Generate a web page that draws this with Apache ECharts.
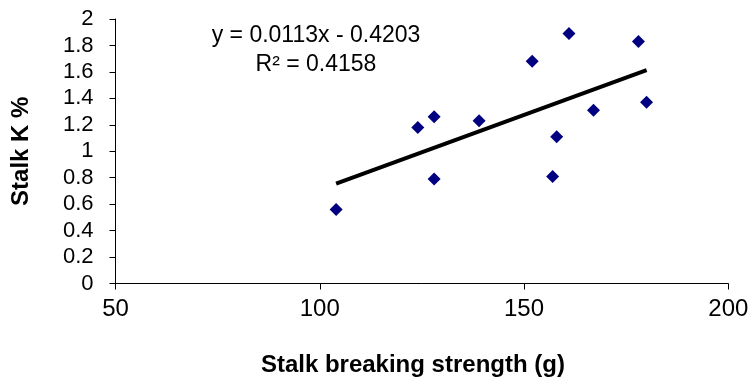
<!DOCTYPE html>
<html>
<head>
<meta charset="utf-8">
<script src="https://cdn.jsdelivr.net/npm/echarts@6/dist/echarts.min.js"></script>
<style>
html,body{margin:0;padding:0;background:#fff;}
#chart{width:749px;height:381px;}
</style>
</head>
<body>
<div id="chart"></div>
<script>
// Data
var strength = [104, 124, 128, 128, 139, 152, 161, 158, 157, 167, 178, 180];
var stalkK   = [0.56, 1.18, 1.26, 0.79, 1.23, 1.68, 1.89, 1.11, 0.81, 1.31, 1.83, 1.37];
var trendSlope = 0.0113;
var trendIntercept = -0.4203;
var trendXRange = [104, 180];
var equationLines = ['y = 0.0113x - 0.4203', 'R\u00b2 = 0.4158'];
var xTicks = [50, 100, 150, 200];
var yTicks = [0, 0.2, 0.4, 0.6, 0.8, 1, 1.2, 1.4, 1.6, 1.8, 2];

var points = strength.map(function (x, i) { return [x, stalkK[i]]; });
var trend = trendXRange.map(function (x) { return [x, trendSlope * x + trendIntercept]; });

var chart = echarts.init(document.getElementById('chart'), null, {renderer: 'canvas'});
var font = '"Liberation Sans", Arial, sans-serif';
chart.setOption({
  animation: false,
  backgroundColor: '#fff',
  grid: {left: 115.5, right: 20.7, top: 19, bottom: 97.5, containLabel: false, outerBoundsMode: 'none'},
  xAxis: {
    type: 'value',
    min: xTicks[0], max: xTicks[xTicks.length - 1], interval: 50,
    name: 'Stalk breaking strength (g)',
    nameLocation: 'middle',
    nameGap: 70,
    nameTextStyle: {fontFamily: font, fontWeight: 'bold', fontSize: 24, color: '#000', padding: [0, 18, 0, 0]},
    axisLine: {show: true, onZero: false, lineStyle: {color: '#000', width: 1}},
    axisTick: {show: true, length: 6, inside: false, lineStyle: {color: '#000'}},
    axisLabel: {fontFamily: font, fontSize: 24, color: '#000', margin: 14},
    splitLine: {show: false}
  },
  yAxis: {
    type: 'value',
    min: yTicks[0], max: yTicks[yTicks.length - 1], interval: 0.2,
    name: 'Stalk K %',
    nameLocation: 'middle',
    nameGap: 82,
    nameRotate: 90,
    nameTextStyle: {fontFamily: font, fontWeight: 'bold', fontSize: 24, color: '#000'},
    axisLine: {show: true, lineStyle: {color: '#000', width: 1}},
    axisTick: {show: true, length: 6, lineStyle: {color: '#000'}},
    axisLabel: {fontFamily: font, fontSize: 22, color: '#000', margin: 22},
    splitLine: {show: false}
  },
  graphic: [{
    type: 'text',
    x: 316, y: 21,
    style: {
      text: equationLines.join('\n'),
      font: '23px "Liberation Sans", Arial, sans-serif',
      fill: '#000',
      textAlign: 'center',
      textVerticalAlign: 'top',
      lineHeight: 29
    }
  }],
  series: [{
    type: 'line',
    data: trend,
    symbol: 'none',
    lineStyle: {color: '#000', width: 4},
    z: 2
  }, {
    type: 'scatter',
    data: points,
    symbol: 'diamond',
    symbolSize: [13, 13],
    itemStyle: {color: '#000080', opacity: 1},
    z: 3
  }]
});
</script>
</body>
</html>
